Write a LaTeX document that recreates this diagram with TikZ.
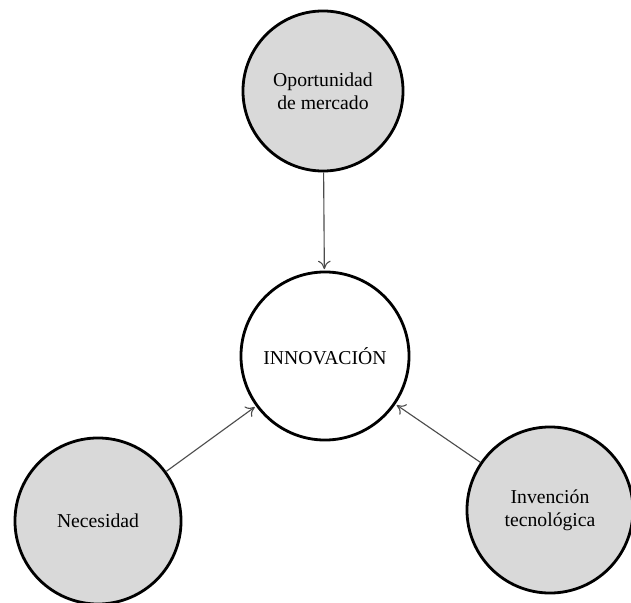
\documentclass[tikz,border=0pt]{standalone}
\usepackage{fontspec}
\setmainfont{Liberation Serif}
\usetikzlibrary{arrows.meta}

\begin{document}
\begin{tikzpicture}[
    x=0.025cm, y=-0.025cm,
    idea/.style={draw, circle, line width=2pt, minimum size=4.15cm, inner sep=0pt, align=center, font=\fontsize{14}{16.5}\selectfont, fill=black!15},
    core/.style={idea, fill=white, minimum size=4.2cm},
    arr/.style={-{To[length=6pt, width=9pt]}, draw=black!70, line width=0.8pt, shorten >=1pt}
]
\useasboundingbox (0,0) rectangle (631,603);

\node[idea, minimum size=4.0cm] (merc) at (323,91) {Oportunidad\\de mercado};
\node[core] (inno) at (325,356) {INNOVACIÓN};
\node[idea] (nec) at (98,521) {Necesidad};
\node[idea] (inv) at (550,510) {Invención\\tecnológica};

\draw[arr] (merc) -- (inno);
\draw[arr] (nec) -- (inno);
\draw[arr] (inv) -- (inno);
\end{tikzpicture}
\end{document}
